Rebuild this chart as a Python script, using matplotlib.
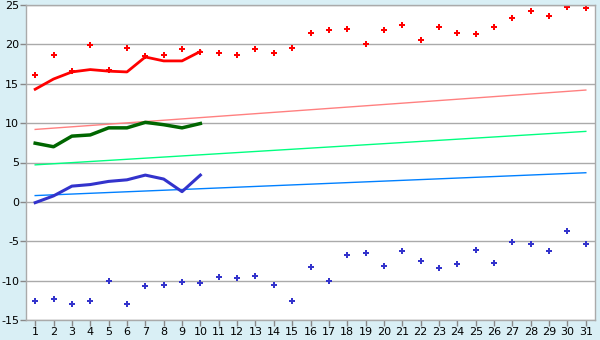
import numpy as np
import matplotlib.pyplot as plt

plt.rcParams['axes.unicode_minus'] = False

days = list(range(1, 32))

# daily high / low markers
high_pts = [16.1, 18.6, 16.6, 19.9, 16.8, 19.5, 18.5, 18.7, 19.4, 19.0,
            18.9, 18.6, 19.4, 18.9, 19.5, 21.4, 21.8, 21.9, 20.0, 21.8,
            22.5, 20.6, 22.2, 21.4, 21.3, 22.2, 23.4, 24.2, 23.6, 24.7, 24.6]
low_pts = [-12.6, -12.3, -13.0, -12.6, -10.0, -13.0, -10.7, -10.6, -10.2, -10.35,
           -9.6, -9.7, -9.35, -10.5, -12.6, -8.3, -10.0, -6.7, -6.55, -8.2,
           -6.2, -7.45, -8.45, -7.95, -6.05, -7.8, -5.15, -5.3, -6.2, -3.75, -5.4]

# lines for the first ten days
line_days = list(range(1, 11))
high_line = [14.3, 15.6, 16.5, 16.8, 16.6, 16.5, 18.4, 17.9, 17.9, 19.1]
mean_line = [7.45, 7.0, 8.35, 8.5, 9.4, 9.4, 10.1, 9.8, 9.4, 9.95]
low_line = [-0.1, 0.76, 2.0, 2.2, 2.6, 2.8, 3.4, 2.9, 1.3, 3.4]

# trend lines (start and end values, day 1 and day 31)
trend_days = [1, 31]
high_trend = [9.2, 14.2]
mean_trend = [4.7, 8.95]
low_trend = [0.8, 3.7]

bg = '#d9eff5'
fig = plt.figure(figsize=(6, 3.4), dpi=100, facecolor=bg)
ax = fig.add_axes([26/600, 1-320/340, 569/600, 315/340])
ax.set_facecolor('white')

# grid
ax.set_yticks(range(-15, 26, 5))
ax.yaxis.grid(True, color='#aaaaaa', linewidth=1)
ax.set_axisbelow(True)

ax.plot(trend_days, high_trend, color='#ff8080', lw=1)
ax.plot(trend_days, mean_trend, color='#00ff80', lw=1)
ax.plot(trend_days, low_trend, color='#0080ff', lw=1)

ax.plot(line_days, high_line, color='#ff0000', lw=2)
ax.plot(line_days, mean_line, color='#006600', lw=2.5)
ax.plot(line_days, low_line, color='#3333cc', lw=2.2)

ax.plot(days, high_pts, ls='none', marker='P', ms=5, color='#ff0000', mew=0)
ax.plot(days, low_pts, ls='none', marker='P', ms=5, color='#3333cc', mew=0)

ax.set_xlim(0.5, 31.5)
ax.set_ylim(-15, 25)
ax.set_xticks(days)
ax.set_xticklabels([str(d) for d in days])

for s in ax.spines.values():
    s.set_color('#aaaaaa')
    s.set_linewidth(1)
ax.tick_params(axis='both', colors='#888888', labelcolor='black',
               labelsize=8, length=4, width=1, pad=1)

fig.savefig('out.png', dpi=100, facecolor=bg)
